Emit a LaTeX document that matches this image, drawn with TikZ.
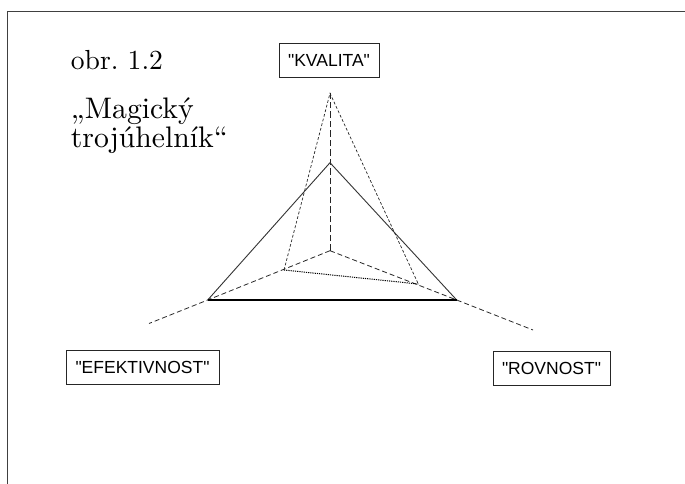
\documentclass[tikz,border=0pt]{standalone}
\usepackage{fontspec}
\newfontfamily\arialfont{Liberation Sans}
\newfontfamily\lmten{lmroman10-regular}[Extension=.otf]
\begin{document}
\begin{tikzpicture}[x=1pt,y=-1pt,
  frame/.style={draw=black!75, line width=1.6pt},
  lbl/.style={draw=black!85, line width=0.9pt, inner sep=0pt, minimum height=34pt,
    font=\arialfont\fontsize{17.5}{20}\selectfont},
  serif/.style={inner sep=0pt, anchor=base west, font=\lmten\fontsize{29.7}{29.7}\selectfont},
  solidline/.style={draw=black!80, line width=0.9pt},
  axis/.style={draw=black!85, line width=0.8pt, dash pattern=on 5pt off 3pt},
  vaxis/.style={draw=black!85, line width=0.8pt, dash pattern=on 6.5pt off 3pt},
  fine/.style={draw=black!85, line width=0.7pt, dash pattern=on 2.8pt off 2pt},
  dotline/.style={draw=black, line width=1pt, dash pattern=on 1.2pt off 1pt}]
\useasboundingbox (0,0) rectangle (685,484);
\fill[white] (0,0) rectangle (685,484);
% partial frame
\coordinate (f1) at (7.5,484);
\coordinate (f2) at (7.5,11.5);
\coordinate (f3) at (685,11.5);
\draw[frame] (f1) -- (f2) -- (f3);
% texts
\node[serif, font=\lmten\fontsize{27.6}{27.6}\selectfont] (obr) at (70.7,69.3) {obr.\ 1.2};
\node[serif] (mag) at (70.7,118.3) {„Magický};
\node[serif] (troj) at (70.7,147.7) {trojúhelník“};
% labels
\node[lbl, minimum width=100pt] (kval) at (329,60.5) {"KVALITA"};
\node[lbl, minimum width=153pt] (efek) at (142.5,367.5) {"EFEKTIVNOST"};
\node[lbl, minimum width=117pt] (rovn) at (551.5,368.5) {"ROVNOST"};
% points
\coordinate (T) at (330,162.7);
\coordinate (BL) at (207.7,300);
\coordinate (BR) at (456.7,300);
\coordinate (Q) at (330,93.3);
\coordinate (C) at (330,250.7);
\coordinate (L) at (284,270);
\coordinate (R) at (418.3,284);
\coordinate (EL) at (149,323.5);
\coordinate (ER) at (533,330);
% axes
\draw[vaxis] (C) -- (Q);
\draw[axis] (C) -- (BL) -- (EL);
\draw[axis] (C) -- (BR) -- (ER);
% inner polygon
\draw[fine] (L) -- (Q) -- (R);
\draw[dotline] (L) -- (R);
% solid triangle
\draw[solidline] (BL) -- (T) -- (BR);
\draw[solidline, draw=black, line width=1.1pt] (BL) -- (BR);
\end{tikzpicture}
\end{document}
